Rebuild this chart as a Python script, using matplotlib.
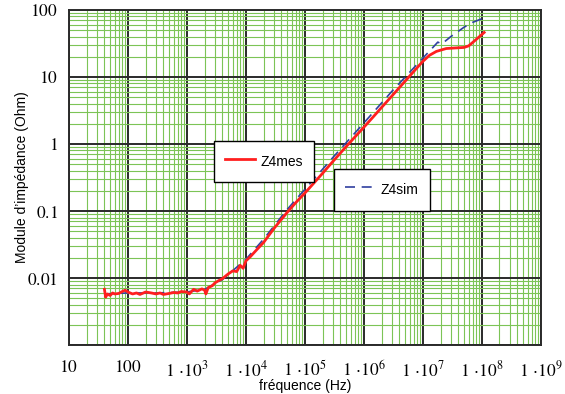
import numpy as np
import matplotlib
matplotlib.use("Agg")
import matplotlib.pyplot as plt
from matplotlib.ticker import FixedLocator, FixedFormatter, LogLocator, NullFormatter

# mesure Z4 (Hz, Ohm)
f_mes = [40, 42, 45, 50, 55, 60, 70, 80, 90, 100, 120, 140, 160, 200, 250, 300,
         350, 400, 500, 600, 700, 800, 1000, 1100, 1300, 1500, 1800, 2000, 2100,
         2300, 2700, 3000, 3500, 4000, 5000, 6000, 7000, 8000, 9000, 1e4, 1.2e4,
         1.5e4, 2e4, 3e4, 5e4, 7e4, 1e5, 1.5e5, 2e5, 3e5, 5e5, 7e5, 1e6, 1.5e6,
         2e6, 3e6, 5e6, 7e6, 1e7, 1.3e7, 1.7e7, 2.5e7, 3.5e7, 5e7, 6e7, 8e7, 1.1e8]
z_mes = [0.0068, 0.0052, 0.0058, 0.0055, 0.006, 0.0058, 0.0059, 0.0063, 0.0066,
         0.0062, 0.0058, 0.006, 0.0057, 0.0062, 0.006, 0.0058, 0.006, 0.0057,
         0.0059, 0.0061, 0.006, 0.0063, 0.0062, 0.0058, 0.0068, 0.0064, 0.0069,
         0.0066, 0.0058, 0.0072, 0.0077, 0.0085, 0.0092, 0.0098, 0.0115, 0.0128,
         0.0125, 0.0155, 0.014, 0.018, 0.021, 0.026, 0.034, 0.055, 0.095, 0.133,
         0.185, 0.275, 0.365, 0.55, 0.91, 1.26, 1.77, 2.63, 3.5, 5.2, 8.6, 12,
         17, 21, 24, 26.5, 27, 27.5, 29, 36, 46]

# simulation Z4
f_sim = [40, 100, 300, 1000, 2000, 4000, 1e4, 2e4, 5e4, 1e5, 3e5, 1e6, 3e6,
         1e7, 1.4e7, 1.8e7, 2.1e7, 3e7, 5e7, 7e7, 1.1e8]
z_sim = [0.0058, 0.006, 0.006, 0.0062, 0.0068, 0.0095, 0.019, 0.038, 0.105,
         0.21, 0.63, 2.05, 6.1, 19, 26, 33, 31, 40, 55, 65, 76]

x_decades = [1, 2, 3, 4, 5, 6, 7, 8, 9]
y_decades = [-3, -2, -1, 0, 1, 2]
y_labels = ["", "0.01", "0.1", "1", "10", "100"]

plt.rcParams["font.family"] = ["Liberation Sans", "DejaVu Sans"]
plt.rcParams["mathtext.fontset"] = "stix"

fig = plt.figure(figsize=(5.65, 3.94), dpi=100)
ax = fig.add_axes([0.122, 0.124, 0.835, 0.851])
ax.set_xscale("log")
ax.set_yscale("log")
ax.set_xlim(10, 1e9)
ax.set_ylim(1e-3, 1e2)

ax.xaxis.set_major_locator(FixedLocator([10.0 ** d for d in x_decades]))
xl = []
for d in x_decades:
    if d <= 2:
        xl.append("$%d$" % 10 ** d)
    else:
        xl.append(r"$1\,\cdot\!10^{%d}$" % d)
ax.xaxis.set_major_formatter(FixedFormatter(xl))
ax.yaxis.set_major_locator(FixedLocator([10.0 ** d for d in y_decades]))
ax.yaxis.set_major_formatter(FixedFormatter(["$%s$" % s if s else "" for s in y_labels]))
for a in (ax.xaxis, ax.yaxis):
    a.set_minor_locator(LogLocator(base=10, subs=np.arange(2, 10), numticks=20))
    a.set_minor_formatter(NullFormatter())

ax.grid(True, which="minor", color="#7cc456", lw=0.8)
ax.grid(True, which="major", color="#2a2a2a", lw=1.4)
ax.set_axisbelow(True)
ax.tick_params(which="both", length=0, labelsize=12.5)
ax.tick_params(axis="x", pad=10)
ax.tick_params(axis="y", pad=8)
for s in ax.spines.values():
    s.set_color("#2a2a2a")
    s.set_linewidth(1.4)

l1, = ax.plot(f_mes, z_mes, color="#ff1f1f", lw=2.0, label="Z4mes", zorder=4)
l2, = ax.plot(f_sim, z_sim, color="#3040a0", lw=1.2, dashes=(6, 4), label="Z4sim", zorder=3)

ax.set_xlabel("fréquence (Hz)", fontsize=10, labelpad=0)
ax.set_ylabel("Module d’impédance (Ohm)", fontsize=10, labelpad=-1)

opts = dict(loc="upper left", fancybox=False, framealpha=1, edgecolor="black",
            fontsize=10, borderpad=0.8, handlelength=2.15, handletextpad=0.43,
            handleheight=1.75, borderaxespad=0)
leg1 = ax.legend(handles=[l1], bbox_to_anchor=(0.307, 0.609), **opts)
leg1.get_frame().set_linewidth(1.0)
ax.add_artist(leg1)
leg2 = ax.legend(handles=[l2], bbox_to_anchor=(0.561, 0.525), **opts)
leg2.get_frame().set_linewidth(1.0)

fig.savefig("out.png", dpi=100)
